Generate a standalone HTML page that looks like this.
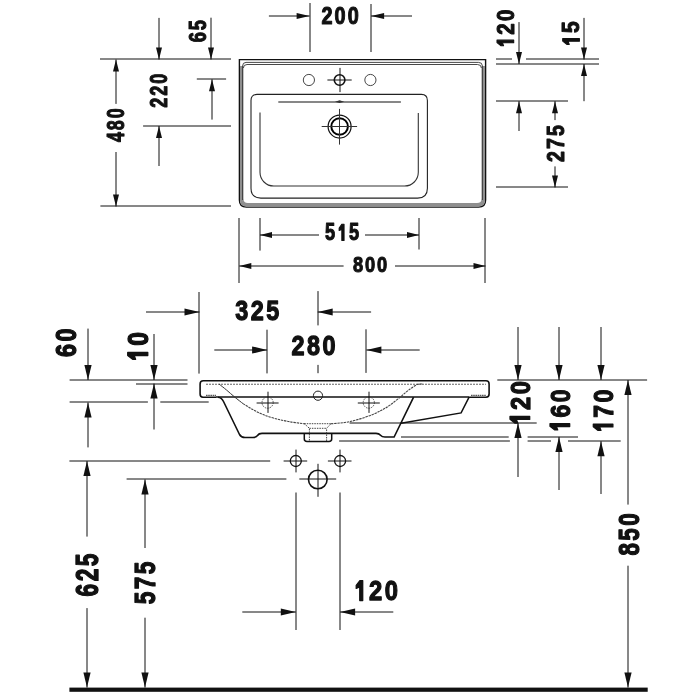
<!DOCTYPE html>
<html><head><meta charset="utf-8"><style>
html,body{margin:0;padding:0;background:#fff;width:700px;height:700px;overflow:hidden}
svg{display:block;filter:grayscale(1)}
.t text,.t path{font-family:"Liberation Sans",sans-serif;font-weight:bold;font-size:100px;fill:#111;stroke:#111;stroke-width:4.5px;stroke-linejoin:round}
</style></head><body>
<svg width="700" height="700" viewBox="0 0 700 700"><line x1="100" y1="59" x2="231" y2="59" stroke="#111" stroke-width="1"/>
<line x1="159" y1="17.9" x2="159" y2="59.5" stroke="#111" stroke-width="1"/>
<polygon points="159,59.5 156,47.5 162,47.5" fill="#111"/>
<line x1="211" y1="17.7" x2="211" y2="59.5" stroke="#111" stroke-width="1"/>
<polygon points="211,59.5 208,47.5 214,47.5" fill="#111"/>
<g transform="matrix(0,-0.21700,0.23867,0,206.384,43.302)" class="t"><text transform="translate(27.8,0) scale(0.84,1)" text-anchor="middle">6</text><text transform="translate(83.4,0) scale(0.84,1)" text-anchor="middle">5</text></g>
<line x1="116" y1="103.9" x2="116" y2="59.5" stroke="#111" stroke-width="1"/>
<polygon points="116,59.5 113,71.5 119,71.5" fill="#111"/>
<g transform="matrix(0,-0.21274,0.24267,0,124.172,142.951)" class="t"><text transform="translate(27.8,0) scale(0.84,1)" text-anchor="middle">4</text><text transform="translate(83.4,0) scale(0.84,1)" text-anchor="middle">8</text><text transform="translate(139.0,0) scale(0.84,1)" text-anchor="middle">0</text></g>
<line x1="116" y1="152" x2="116" y2="206.5" stroke="#111" stroke-width="1"/>
<polygon points="116,206.5 113,194.5 119,194.5" fill="#111"/>
<line x1="100.4" y1="206" x2="231" y2="206" stroke="#111" stroke-width="1"/>
<line x1="196.8" y1="79" x2="226.1" y2="79" stroke="#111" stroke-width="1"/>
<line x1="212" y1="119.6" x2="212" y2="79.3" stroke="#111" stroke-width="1"/>
<polygon points="212,79.3 209,91.3 215,91.3" fill="#111"/>
<line x1="143.1" y1="126" x2="231" y2="126" stroke="#111" stroke-width="1"/>
<line x1="159" y1="166" x2="159" y2="126" stroke="#111" stroke-width="1"/>
<polygon points="159,126 156,138 162,138" fill="#111"/>
<g transform="matrix(0,-0.21548,0.24267,0,167.272,108.793)" class="t"><text transform="translate(27.8,0) scale(0.84,1)" text-anchor="middle">2</text><text transform="translate(83.4,0) scale(0.84,1)" text-anchor="middle">2</text><text transform="translate(139.0,0) scale(0.84,1)" text-anchor="middle">0</text></g>
<line x1="310" y1="3" x2="310" y2="52" stroke="#111" stroke-width="1"/>
<line x1="371" y1="4" x2="371" y2="52" stroke="#111" stroke-width="1"/>
<line x1="268.9" y1="16" x2="309.6" y2="16" stroke="#111" stroke-width="1"/>
<polygon points="309.6,16 296.6,13 296.6,19" fill="#111"/>
<line x1="412" y1="16" x2="371.1" y2="16" stroke="#111" stroke-width="1"/>
<polygon points="371.1,16 384.1,13 384.1,19" fill="#111"/>
<g transform="matrix(0.23613,0,0,0.24000,320.383,24.180)" class="t"><text transform="translate(27.8,0) scale(0.84,1)" text-anchor="middle">2</text><text transform="translate(83.4,0) scale(0.84,1)" text-anchor="middle">0</text><text transform="translate(139.0,0) scale(0.84,1)" text-anchor="middle">0</text></g>
<path d="M239.4,59.6 H485.6 V200 Q485.6,207.1 478.6,207.1 H246.4 Q239.4,207.1 239.4,200 Z" fill="none" stroke="#111" stroke-width="1.4"/>
<path d="M240,66 V200 Q240,206.4 246.4,206.4 H478.6 Q485,206.4 485,200 V66 L481.6,66 V198.5 Q481.6,203 477,203 H248 Q243.4,203 243.4,198.5 V66 Z" fill="#8f8f8f"/>
<path d="M242.6,200 V66 Q242.6,62.4 246,62.4 H478.6 Q482.4,62.4 482.4,66 V200" fill="none" stroke="#333" stroke-width="0.9"/>
<path d="M243.4,68 Q243.4,64.5 247,64.5 H477.5 Q481.4,64.5 481.4,68" fill="none" stroke="#333" stroke-width="0.9"/>
<circle cx="308.9" cy="80" r="5.6" fill="none" stroke="#333" stroke-width="0.9"/>
<circle cx="370.4" cy="80" r="5.6" fill="none" stroke="#333" stroke-width="0.9"/>
<circle cx="339.6" cy="80" r="5.3" fill="none" stroke="#111" stroke-width="1.6"/>
<line x1="327.4" y1="80" x2="351.7" y2="80" stroke="#111" stroke-width="1"/>
<line x1="340" y1="67.9" x2="340" y2="92.1" stroke="#111" stroke-width="1"/>
<path d="M251,100.5 Q251,94.4 257,94.4 H421.4 Q427.4,94.4 427.4,100.5 V188.3 Q427.4,198.1 417.6,198.1 H260.8 Q251,198.1 251,188.3 Z" fill="none" stroke="#222" stroke-width="1.1"/>
<path d="M260,112.4 V172.3 A13.7,13.7 0 0 0 273.7,186 H404.6 A13.7,13.7 0 0 0 418.3,172.3 V112.9" fill="none" stroke="#333" stroke-width="1.1"/>
<line x1="278.3" y1="102" x2="400.9" y2="102" stroke="#111" stroke-width="1.2"/>
<path d="M335,101.7 L339.6,100.3 L344.2,101.7 L339.6,103.1 Z" fill="#333"/>
<circle cx="339.6" cy="126.5" r="11.5" fill="none" stroke="#111" stroke-width="1.25"/>
<circle cx="339.6" cy="126.5" r="8.3" fill="none" stroke="#000" stroke-width="2"/>
<line x1="321.7" y1="126.5" x2="357.1" y2="126.5" stroke="#333" stroke-width="1"/>
<line x1="339.5" y1="108.9" x2="339.5" y2="144.6" stroke="#333" stroke-width="1"/>
<line x1="496" y1="59" x2="512" y2="59" stroke="#111" stroke-width="1"/>
<line x1="526" y1="59" x2="599" y2="59" stroke="#111" stroke-width="1"/>
<line x1="496" y1="64" x2="599" y2="64" stroke="#111" stroke-width="1"/>
<line x1="519" y1="22.1" x2="519" y2="64" stroke="#111" stroke-width="1"/>
<polygon points="519,64 516,52 522,52" fill="#111"/>
<g transform="matrix(0,-0.24430,0.23867,0,513.584,49.332)" class="t"><path transform="translate(0.0,0)" d="M37.5,0.5 H27 V-47 L14.5,-42 V-52.5 L27.5,-69.5 H37.5 Z"/><text transform="translate(83.4,0) scale(0.84,1)" text-anchor="middle">2</text><text transform="translate(139.0,0) scale(0.84,1)" text-anchor="middle">0</text></g>
<line x1="584" y1="17.9" x2="584" y2="59.5" stroke="#111" stroke-width="1"/>
<polygon points="584,59.5 581,47.5 587,47.5" fill="#111"/>
<line x1="584" y1="101.2" x2="584" y2="64" stroke="#111" stroke-width="1"/>
<polygon points="584,64 581,76 587,76" fill="#111"/>
<g transform="matrix(0,-0.25106,0.23867,0,579.284,48.013)" class="t"><path transform="translate(0.0,0)" d="M37.5,0.5 H27 V-47 L14.5,-42 V-52.5 L27.5,-69.5 H37.5 Z"/><text transform="translate(83.4,0) scale(0.84,1)" text-anchor="middle">5</text></g>
<line x1="496" y1="101" x2="568" y2="101" stroke="#111" stroke-width="1"/>
<line x1="519" y1="131" x2="519" y2="101.2" stroke="#111" stroke-width="1"/>
<polygon points="519,101.2 516,113.2 522,113.2" fill="#111"/>
<line x1="555" y1="120.1" x2="555" y2="101.2" stroke="#111" stroke-width="1"/>
<polygon points="555,101.2 552,113.2 558,113.2" fill="#111"/>
<g transform="matrix(0,-0.23333,0.24533,0,564.264,163.100)" class="t"><text transform="translate(27.8,0) scale(0.84,1)" text-anchor="middle">2</text><text transform="translate(83.4,0) scale(0.84,1)" text-anchor="middle">7</text><text transform="translate(139.0,0) scale(0.84,1)" text-anchor="middle">5</text></g>
<line x1="555" y1="166.4" x2="555" y2="187.4" stroke="#111" stroke-width="1"/>
<polygon points="555,187.4 552,175.4 558,175.4" fill="#111"/>
<line x1="496" y1="187" x2="568" y2="187" stroke="#111" stroke-width="1"/>
<line x1="239" y1="218" x2="239" y2="283" stroke="#111" stroke-width="1"/>
<line x1="485" y1="218" x2="485" y2="283" stroke="#111" stroke-width="1"/>
<line x1="260" y1="218" x2="260" y2="250.6" stroke="#111" stroke-width="1"/>
<line x1="419" y1="218" x2="419" y2="249.5" stroke="#111" stroke-width="1"/>
<line x1="319" y1="235" x2="260" y2="235" stroke="#111" stroke-width="1"/>
<polygon points="260,235 272,232 272,238" fill="#111"/>
<g transform="matrix(0.21656,0,0,0.23200,323.917,240.304)" class="t"><text transform="translate(27.8,0) scale(0.84,1)" text-anchor="middle">5</text><path transform="translate(55.6,0)" d="M37.5,0.5 H27 V-47 L14.5,-42 V-52.5 L27.5,-69.5 H37.5 Z"/><text transform="translate(139.0,0) scale(0.84,1)" text-anchor="middle">5</text></g>
<line x1="365" y1="235" x2="419" y2="235" stroke="#111" stroke-width="1"/>
<polygon points="419,235 407,232 407,238" fill="#111"/>
<line x1="343.6" y1="266" x2="239.3" y2="266" stroke="#111" stroke-width="1"/>
<polygon points="239.3,266 251.3,263 251.3,269" fill="#111"/>
<g transform="matrix(0.21795,0,0,0.22400,351.910,271.728)" class="t"><text transform="translate(27.8,0) scale(0.84,1)" text-anchor="middle">8</text><text transform="translate(83.4,0) scale(0.84,1)" text-anchor="middle">0</text><text transform="translate(139.0,0) scale(0.84,1)" text-anchor="middle">0</text></g>
<line x1="395" y1="266" x2="485.5" y2="266" stroke="#111" stroke-width="1"/>
<polygon points="485.5,266 473.5,263 473.5,269" fill="#111"/>
<line x1="199" y1="292" x2="199" y2="373.6" stroke="#111" stroke-width="1"/>
<line x1="318" y1="291.1" x2="318" y2="325.4" stroke="#111" stroke-width="1"/>
<line x1="318" y1="364.9" x2="318" y2="373.2" stroke="#111" stroke-width="1"/>
<line x1="146" y1="312" x2="199.5" y2="312" stroke="#111" stroke-width="1"/>
<polygon points="199.5,312 184.5,308.4 184.5,315.6" fill="#111"/>
<line x1="371.1" y1="312" x2="317.7" y2="312" stroke="#111" stroke-width="1"/>
<polygon points="317.7,312 332.7,308.4 332.7,315.6" fill="#111"/>
<g transform="matrix(0.27834,0,0,0.27867,234.008,320.264)" class="t"><text transform="translate(27.8,0) scale(0.84,1)" text-anchor="middle">3</text><text transform="translate(83.4,0) scale(0.84,1)" text-anchor="middle">2</text><text transform="translate(139.0,0) scale(0.84,1)" text-anchor="middle">5</text></g>
<line x1="267" y1="329.7" x2="267" y2="373.4" stroke="#111" stroke-width="1"/>
<line x1="366" y1="329.3" x2="366" y2="372.9" stroke="#111" stroke-width="1"/>
<line x1="214.3" y1="350" x2="267.1" y2="350" stroke="#111" stroke-width="1"/>
<polygon points="267.1,350 252.1,346.4 252.1,353.6" fill="#111"/>
<line x1="419.7" y1="350" x2="366.4" y2="350" stroke="#111" stroke-width="1"/>
<polygon points="366.4,350 381.4,346.4 381.4,353.6" fill="#111"/>
<g transform="matrix(0.27871,0,0,0.28533,290.328,355.444)" class="t"><text transform="translate(27.8,0) scale(0.84,1)" text-anchor="middle">2</text><text transform="translate(83.4,0) scale(0.84,1)" text-anchor="middle">8</text><text transform="translate(139.0,0) scale(0.84,1)" text-anchor="middle">0</text></g>
<g transform="matrix(0,-0.27778,0.29333,0,76.120,358.167)" class="t"><text transform="translate(27.8,0) scale(0.84,1)" text-anchor="middle">6</text><text transform="translate(83.4,0) scale(0.84,1)" text-anchor="middle">0</text></g>
<line x1="88" y1="328.6" x2="88" y2="380" stroke="#111" stroke-width="1"/>
<polygon points="88,380 84.4,365 91.6,365" fill="#111"/>
<line x1="69.6" y1="380" x2="187.5" y2="380" stroke="#111" stroke-width="1"/>
<line x1="136" y1="384" x2="187.5" y2="384" stroke="#111" stroke-width="1"/>
<g transform="matrix(0,-0.29570,0.28667,0,147.640,363.548)" class="t"><path transform="translate(0.0,0)" d="M37.5,0.5 H27 V-47 L14.5,-42 V-52.5 L27.5,-69.5 H37.5 Z"/><text transform="translate(83.4,0) scale(0.84,1)" text-anchor="middle">0</text></g>
<line x1="154" y1="334" x2="154" y2="380" stroke="#111" stroke-width="1"/>
<polygon points="154,380 150.4,365 157.6,365" fill="#111"/>
<line x1="154" y1="429.5" x2="154" y2="383.6" stroke="#111" stroke-width="1"/>
<polygon points="154,383.6 150.4,398.6 157.6,398.6" fill="#111"/>
<line x1="69.6" y1="402" x2="147.9" y2="402" stroke="#111" stroke-width="1"/>
<line x1="160.3" y1="402" x2="208.7" y2="402" stroke="#111" stroke-width="1"/>
<line x1="88" y1="447.4" x2="88" y2="402.5" stroke="#111" stroke-width="1"/>
<polygon points="88,402.5 84.4,417.5 91.6,417.5" fill="#111"/>
<line x1="69.4" y1="461" x2="270.2" y2="461" stroke="#111" stroke-width="1"/>
<line x1="126.6" y1="479" x2="286.4" y2="479" stroke="#111" stroke-width="1"/>
<line x1="87" y1="536.6" x2="87" y2="461.1" stroke="#111" stroke-width="1"/>
<polygon points="87,461.1 83.4,476.1 90.6,476.1" fill="#111"/>
<line x1="145" y1="548" x2="145" y2="479.4" stroke="#111" stroke-width="1"/>
<polygon points="145,479.4 141.4,494.4 148.6,494.4" fill="#111"/>
<g transform="matrix(0,-0.27115,0.30533,0,97.584,597.627)" class="t"><text transform="translate(27.8,0) scale(0.84,1)" text-anchor="middle">6</text><text transform="translate(83.4,0) scale(0.84,1)" text-anchor="middle">2</text><text transform="translate(139.0,0) scale(0.84,1)" text-anchor="middle">5</text></g>
<g transform="matrix(0,-0.26943,0.30000,0,155.400,605.347)" class="t"><text transform="translate(27.8,0) scale(0.84,1)" text-anchor="middle">5</text><text transform="translate(83.4,0) scale(0.84,1)" text-anchor="middle">7</text><text transform="translate(139.0,0) scale(0.84,1)" text-anchor="middle">5</text></g>
<line x1="87" y1="608.1" x2="87" y2="687.6" stroke="#111" stroke-width="1"/>
<polygon points="87,687.6 83.4,672.6 90.6,672.6" fill="#111"/>
<line x1="145" y1="617.7" x2="145" y2="687.6" stroke="#111" stroke-width="1"/>
<polygon points="145,687.6 141.4,672.6 148.6,672.6" fill="#111"/>
<rect x="69.4" y="687.6" width="578.3" height="4.2" fill="#111"/>
<circle cx="295.8" cy="461" r="5.5" fill="none" stroke="#111" stroke-width="1.3"/>
<line x1="283.6" y1="461" x2="307.2" y2="461" stroke="#111" stroke-width="1"/>
<line x1="296" y1="449.6" x2="296" y2="472.4" stroke="#111" stroke-width="1"/>
<circle cx="340.1" cy="461" r="5.5" fill="none" stroke="#111" stroke-width="1.3"/>
<line x1="327.9" y1="461" x2="351.5" y2="461" stroke="#111" stroke-width="1"/>
<line x1="340" y1="449.6" x2="340" y2="472.4" stroke="#111" stroke-width="1"/>
<circle cx="317.8" cy="479.5" r="9.3" fill="none" stroke="#111" stroke-width="1.6"/>
<line x1="299.3" y1="479" x2="336.2" y2="479" stroke="#111" stroke-width="1"/>
<line x1="318" y1="463.8" x2="318" y2="496.8" stroke="#111" stroke-width="1"/>
<line x1="296" y1="492.5" x2="296" y2="630" stroke="#111" stroke-width="1"/>
<line x1="340" y1="492.5" x2="340" y2="630" stroke="#111" stroke-width="1"/>
<line x1="242.3" y1="612" x2="295.8" y2="612" stroke="#111" stroke-width="1"/>
<polygon points="295.8,612 280.8,608.4 280.8,615.6" fill="#111"/>
<line x1="393.3" y1="612" x2="340.1" y2="612" stroke="#111" stroke-width="1"/>
<polygon points="340.1,612 355.1,608.4 355.1,615.6" fill="#111"/>
<g transform="matrix(0.28322,0,0,0.28400,352.101,600.348)" class="t"><path transform="translate(0.0,0)" d="M37.5,0.5 H27 V-47 L14.5,-42 V-52.5 L27.5,-69.5 H37.5 Z"/><text transform="translate(83.4,0) scale(0.84,1)" text-anchor="middle">2</text><text transform="translate(139.0,0) scale(0.84,1)" text-anchor="middle">0</text></g>
<line x1="497.3" y1="380" x2="647.1" y2="380" stroke="#111" stroke-width="1"/>
<line x1="518" y1="327" x2="518" y2="380" stroke="#111" stroke-width="1"/>
<polygon points="518,380 514.4,365 521.6,365" fill="#111"/>
<line x1="559" y1="327" x2="559" y2="380" stroke="#111" stroke-width="1"/>
<polygon points="559,380 555.4,365 562.6,365" fill="#111"/>
<line x1="601" y1="327" x2="601" y2="380" stroke="#111" stroke-width="1"/>
<polygon points="601,380 597.4,365 604.6,365" fill="#111"/>
<g transform="matrix(0,-0.28389,0.28133,0,529.556,427.107)" class="t"><path transform="translate(0.0,0)" d="M37.5,0.5 H27 V-47 L14.5,-42 V-52.5 L27.5,-69.5 H37.5 Z"/><text transform="translate(83.4,0) scale(0.84,1)" text-anchor="middle">2</text><text transform="translate(139.0,0) scale(0.84,1)" text-anchor="middle">0</text></g>
<g transform="matrix(0,-0.27248,0.28133,0,569.556,433.870)" class="t"><path transform="translate(0.0,0)" d="M37.5,0.5 H27 V-47 L14.5,-42 V-52.5 L27.5,-69.5 H37.5 Z"/><text transform="translate(83.4,0) scale(0.84,1)" text-anchor="middle">6</text><text transform="translate(139.0,0) scale(0.84,1)" text-anchor="middle">0</text></g>
<g transform="matrix(0,-0.27584,0.28000,0,612.760,434.410)" class="t"><path transform="translate(0.0,0)" d="M37.5,0.5 H27 V-47 L14.5,-42 V-52.5 L27.5,-69.5 H37.5 Z"/><text transform="translate(83.4,0) scale(0.84,1)" text-anchor="middle">7</text><text transform="translate(139.0,0) scale(0.84,1)" text-anchor="middle">0</text></g>
<line x1="349.6" y1="423" x2="536.7" y2="423" stroke="#111" stroke-width="1"/>
<line x1="401" y1="437" x2="508.7" y2="437" stroke="#111" stroke-width="1"/>
<line x1="527.6" y1="437" x2="578" y2="437" stroke="#111" stroke-width="1"/>
<line x1="339.1" y1="441" x2="509.9" y2="441" stroke="#111" stroke-width="1"/>
<line x1="527.6" y1="441" x2="551" y2="441" stroke="#111" stroke-width="1"/>
<line x1="568" y1="441" x2="620.7" y2="441" stroke="#111" stroke-width="1"/>
<line x1="518" y1="477" x2="518" y2="423.1" stroke="#111" stroke-width="1"/>
<polygon points="518,423.1 514.4,438.1 521.6,438.1" fill="#111"/>
<line x1="559" y1="490" x2="559" y2="436.9" stroke="#111" stroke-width="1"/>
<polygon points="559,436.9 555.4,451.9 562.6,451.9" fill="#111"/>
<line x1="601" y1="494" x2="601" y2="441.2" stroke="#111" stroke-width="1"/>
<polygon points="601,441.2 597.4,456.2 604.6,456.2" fill="#111"/>
<line x1="628" y1="504.6" x2="628" y2="380" stroke="#111" stroke-width="1"/>
<polygon points="628,380 624.4,395 631.6,395" fill="#111"/>
<g transform="matrix(0,-0.26731,0.28933,0,638.532,556.737)" class="t"><text transform="translate(27.8,0) scale(0.84,1)" text-anchor="middle">8</text><text transform="translate(83.4,0) scale(0.84,1)" text-anchor="middle">5</text><text transform="translate(139.0,0) scale(0.84,1)" text-anchor="middle">0</text></g>
<line x1="628" y1="565.7" x2="628" y2="687.6" stroke="#111" stroke-width="1"/>
<polygon points="628,687.6 624.4,672.6 631.6,672.6" fill="#111"/>
<path d="M216,397.2 H203 Q200.1,397.2 200.1,394 V384 Q200.1,380.8 203.3,380.8 H486 Q489.1,380.8 489.1,384 V394 Q489.1,397.2 486,397.2 H469" fill="none" stroke="#111" stroke-width="1.6"/>
<line x1="216" y1="397" x2="469" y2="397" stroke="#111" stroke-width="1.6"/>
<line x1="206" y1="384.2" x2="486" y2="384.2" stroke="#666" stroke-width="1.1" stroke-dasharray="2,1"/>
<line x1="206" y1="395.4" x2="216" y2="395.4" stroke="#555" stroke-width="1.4" stroke-dasharray="1.6,0.6"/>
<line x1="471" y1="395.4" x2="486" y2="395.4" stroke="#555" stroke-width="1.4" stroke-dasharray="1.6,0.6"/>
<path d="M218,397.2 Q221.5,397.4 223.5,401.5 L239.5,434.5 Q241.2,437.5 245,437.5 H253 Q256,437.5 257.5,435.5 Q258.8,433.4 262,433.4 H376 Q379,433.4 380.5,435.2 Q382,437 385,437 H394.1 L413.6,397.2" fill="none" stroke="#111" stroke-width="1.6"/>
<path d="M469.1,397.2 L461.1,412.9 L401,423.2" fill="none" stroke="#111" stroke-width="1.5"/>
<path d="M219,384 C220.25,385 223.9,387.83 226.5,390 C229.1,392.17 231.85,394.73 234.6,397 C237.35,399.27 241.6,402.5 243,403.6" fill="none" stroke="#333" stroke-width="1"/>
<path d="M243,403.6 C244.65,404.6 249.57,407.78 252.9,409.6 C256.23,411.42 259.2,412.98 263,414.5 C266.8,416.02 271.2,417.48 275.7,418.7 C280.2,419.92 285.13,420.95 290,421.8 C294.87,422.65 302.42,423.47 304.9,423.8" fill="none" stroke="#444" stroke-width="1.1" stroke-dasharray="2.4,0.8"/>
<path d="M331,423.8 C332.5,423.67 336.83,423.37 340,423 C343.17,422.63 346.5,422.33 350,421.6 C353.5,420.87 357.18,419.8 361,418.6 C364.82,417.4 369.4,415.83 372.9,414.4 C376.4,412.97 379.15,411.55 382,410 C384.85,408.45 387,407.22 390,405.1 C393,402.98 396.9,399.8 400,397.3 C403.1,394.8 405.75,392.22 408.6,390.1 C411.45,387.98 414.7,385.62 417.1,384.6 C419.5,383.58 422.02,384.1 423,384" fill="none" stroke="#444" stroke-width="1.1" stroke-dasharray="2.4,0.8"/>
<path d="M304.3,423.7 L309.4,428.3 V441 M331,423.7 L326.6,428.3 V441 M309.4,428.3 H326.6 M304.3,423.7 H331" fill="none" stroke="#444" stroke-width="1" stroke-dasharray="1.5,1"/>
<path d="M304.3,433.4 V439 Q304.3,441.4 307,441.4 H329 Q331.7,441.4 331.7,439 V433.4" fill="none" stroke="#111" stroke-width="1.5"/>
<circle cx="267.6" cy="402.6" r="5.6" fill="none" stroke="#444" stroke-width="0.9" stroke-dasharray="1.5,1"/>
<line x1="256.6" y1="403" x2="278.6" y2="403" stroke="#111" stroke-width="1"/>
<line x1="268" y1="391.7" x2="268" y2="412.9" stroke="#111" stroke-width="1"/>
<circle cx="368.8" cy="402.6" r="5.6" fill="none" stroke="#444" stroke-width="0.9" stroke-dasharray="1.5,1"/>
<line x1="357.8" y1="403" x2="379.8" y2="403" stroke="#111" stroke-width="1"/>
<line x1="369" y1="391.7" x2="369" y2="412.9" stroke="#111" stroke-width="1"/>
<circle cx="318" cy="395.7" r="4.6" fill="none" stroke="#222" stroke-width="1"/></svg>
</body></html>
